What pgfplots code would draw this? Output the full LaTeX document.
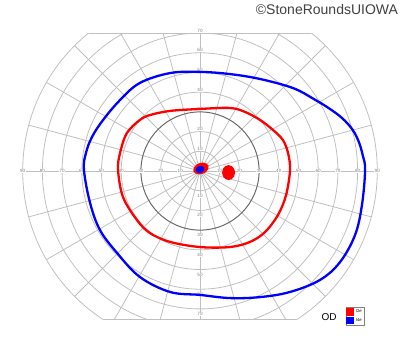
\documentclass[border=0pt]{standalone}
\usepackage{fontspec}
\setmainfont{Liberation Sans}
\usepackage{pgfplots}
\pgfplotsset{compat=1.18}
\definecolor{gridgray}{RGB}{192,192,192}
\definecolor{darkgrid}{RGB}{105,105,105}
\definecolor{lblgray}{RGB}{125,125,125}
\tikzset{lbl/.style={font=\fontsize{4.6}{5}\selectfont, text=lblgray, fill=white, inner sep=0.3pt}}
\begin{document}
\begin{tikzpicture}
\begin{axis}[
  scale only axis, width=400pt, height=352pt,
  xmin=-101.52, xmax=101.52, ymin=-91.88, ymax=86.8,
  hide axis, clip=false,
  legend style={at={(axis cs:73.9,-68.9)}, anchor=north west,
    font=\fontsize{4.2}{4.6}\selectfont, draw=gray, inner sep=0.6pt,
    row sep=0.2pt, cells={anchor=west}},
  legend cell align=left,
  legend image code/.code={\fill[#1] (0pt,-2.6pt) rectangle (5.2pt,2.6pt);},
]
\path (rel axis cs:0,0) rectangle (rel axis cs:1,1);
% grid
\begin{scope}
\clip (axis cs:-100,-75.5) rectangle (axis cs:100,70);
\clip (axis cs:0,0) circle[radius=90];
\pgfplotsinvokeforeach{10,20,40,50,60,70,80}{\draw[gridgray, line width=0.8pt] (axis cs:0,0) circle[radius=#1];}
\pgfplotsinvokeforeach{0,15,...,345}{\draw[gridgray, line width=0.8pt] (axis cs:0,0) -- (axis cs:{95*cos(#1)},{95*sin(#1)});}
\draw[darkgrid, line width=1pt] (axis cs:0,0) circle[radius=30];
\end{scope}
\begin{scope}
\clip (axis cs:-100,-75.5) rectangle (axis cs:100,70);
\draw[gridgray, line width=0.8pt] (axis cs:0,0) circle[radius=90];
\end{scope}
\draw[gridgray, line width=0.8pt] (axis cs:-56.57,70) -- (axis cs:56.57,70);
\draw[gridgray, line width=0.8pt] (axis cs:-48.99,-75.5) -- (axis cs:48.99,-75.5);
% labels
\pgfplotsinvokeforeach{10,20,...,90}{
  \node[lbl] at (axis cs:#1,0) {#1};
  \node[lbl] at (axis cs:-#1,0) {#1};}
\pgfplotsinvokeforeach{10,20,...,70}{
  \node[lbl] at (axis cs:0,#1+1.3) {#1};
  \node[lbl] at (axis cs:0,-#1-2.5) {#1};}

% isopters
\addplot[red, line width=2.3pt, smooth cycle, tension=0.55] coordinates {
(45.7,0.5) (44.7,9.1) (42.1,15.7) (37.1,20.8) (30.5,25.9) (22.8,30.0)
(15.2,32.0) (0,31.5) (-15.2,30.5) (-25.4,28.4) (-30.5,25.9) (-37.1,19.3)
(-40.6,9.1) (-41.6,0.5) (-39.1,-13.2) (-32.0,-24.9) (-25.4,-31.5)
(-15.2,-36.0) (0,-38.6) (15.2,-38.6) (25.4,-36.0) (33.0,-31.0)
(39.6,-22.3) (43.7,-12.2)};
\addlegendentry{I2e}
\addplot[blue, line width=2.3pt, smooth cycle, tension=0.6] coordinates {
(83.8,0.5) (82.6,8.0) (80.6,14.8) (77.4,21.0) (72.2,26.8) (65.8,31.6) (58.0,36.4) (47.2,42.1)
(30.5,46.7) (15.2,49.2) (0,50.3) (-15.2,49.7) (-30.5,44.7) (-40.6,36.0)
(-49.2,25.9) (-54.8,17.3) (-57.9,9.1) (-58.9,0.5) (-55.8,-16.2)
(-50.8,-29.9) (-42.1,-41.6) (-30.5,-53.8) (-15.2,-61.4) (0,-62.9)
(15.2,-64.5) (30.5,-64.0) (45.7,-61.4) (60.9,-55.3) (71.1,-46.2)
(78.7,-32.5) (82.2,-17.3)};
\addlegendentry{I4e}

% blind spot and central spots
\addplot[fill=red, draw=none, smooth cycle, forget plot] coordinates {
(17.8,-0.8) (17.36,1.1) (16.15,2.49) (14.5,3.0) (12.85,2.49) (11.64,1.1)
(11.2,-0.8) (11.64,-2.7) (12.85,-4.09) (14.5,-4.6) (16.15,-4.09) (17.36,-2.7)};
\addplot[fill=red, draw=none, smooth cycle, forget plot] coordinates {
(4.32,2.66) (3.33,3.79) (1.58,4.24) (-0.46,3.90) (-2.24,2.85) (-3.28,1.38)
(-3.32,-0.12) (-2.33,-1.25) (-0.58,-1.70) (1.46,-1.36) (3.24,-0.31) (4.28,1.16)};
\addplot[fill=blue, draw=none, smooth cycle, forget plot] coordinates {
(2.05,1.51) (1.47,2.24) (0.50,2.58) (-0.61,2.43) (-1.55,1.84) (-2.08,0.95)
(-2.05,0.01) (-1.47,-0.72) (-0.50,-1.06) (0.61,-0.91) (1.55,-0.32) (2.08,0.57)};

% texts
\node[anchor=base east, font=\fontsize{14}{14}\selectfont, text=black!75, inner sep=0pt] at (axis cs:100.6,79.2) {©StoneRoundsUIOWA};
\node[font=\fontsize{10}{10}\selectfont, inner sep=0pt] at (axis cs:65.5,-73.9) {OD};
\end{axis}
\end{tikzpicture}
\end{document}
